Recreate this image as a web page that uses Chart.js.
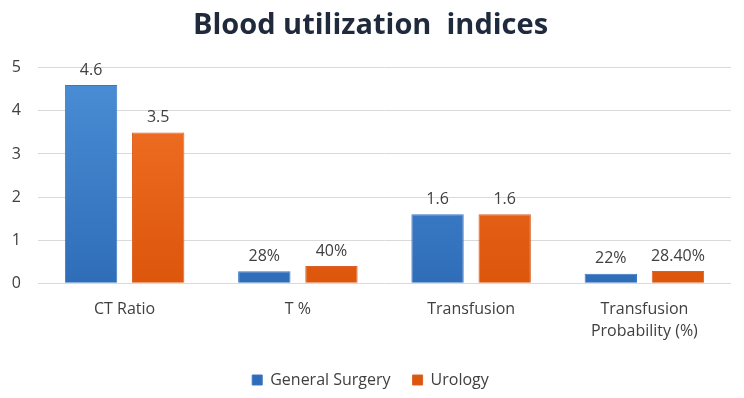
<!DOCTYPE html>
<html>
<head>
<meta charset="utf-8">
<script src="https://cdn.jsdelivr.net/npm/chart.js@4.4.1/dist/chart.umd.min.js"></script>
<style>
  html, body { margin: 0; padding: 0; background: #fff; }
  #wrap { width: 744px; height: 398px; }
</style>
</head>
<body>
<div id="wrap"><canvas id="chart"></canvas></div>
<script>
const categories = ["CT Ratio", "T %", "Transfusion", ["Transfusion", "Probability (%)"]];
const generalSurgery = [4.6, 0.28, 1.6, 0.22];
const urology = [3.5, 0.40, 1.6, 0.284];
const generalLabels = ["4.6", "28%", "1.6", "22%"];
const urologyLabels = ["3.5", "40%", "1.6", "28.40%"];
const yTicks = [0, 1, 2, 3, 4, 5];

const font = "'Open Sans', sans-serif";

function gradient(top, bottom) {
  return (ctx) => {
    const chart = ctx.chart;
    const area = chart.chartArea;
    if (!area) return bottom;
    const g = chart.ctx.createLinearGradient(0, area.top, 0, area.bottom);
    g.addColorStop(0, top);
    g.addColorStop(1, bottom);
    return g;
  };
}

// draws the value text above each bar
const valueLabels = {
  id: "valueLabels",
  afterDatasetsDraw(chart) {
    const ctx = chart.ctx;
    ctx.save();
    ctx.font = "16px " + font;
    ctx.fillStyle = "#404040";
    ctx.textAlign = "center";
    ctx.textBaseline = "bottom";
    chart.data.datasets.forEach((ds, i) => {
      const meta = chart.getDatasetMeta(i);
      meta.data.forEach((bar, j) => {
        ctx.fillText(ds.valueText[j], bar.x, bar.y - 7);
      });
    });
    ctx.restore();
  },
};

new Chart(document.getElementById("chart"), {
  type: "bar",
  data: {
    labels: categories,
    datasets: [
      {
        label: "General Surgery",
        data: generalSurgery,
        valueText: generalLabels,
        backgroundColor: gradient("#4b8fd6", "#2f6db8"),
        borderColor: "#3a78c4",
        borderWidth: 1,
      },
      {
        label: "Urology",
        data: urology,
        valueText: urologyLabels,
        backgroundColor: gradient("#f4732a", "#dc560c"),
        borderColor: "#d9622a",
        borderWidth: 1,
      },
    ],
  },
  options: {
    responsive: true,
    maintainAspectRatio: false,
    animation: false,
    layout: { padding: { left: 10, right: 13, top: 0, bottom: 0 } },
    categoryPercentage: 0.775,
    barPercentage: 0.78,
    plugins: {
      title: {
        display: true,
        text: "Blood utilization  indices",
        color: "#1f2a3c",
        font: { family: font, size: 29, weight: "bold" },
        padding: { top: 8, bottom: 25 },
      },
      legend: {
        position: "bottom",
        labels: {
          color: "#404040",
          font: { family: font, size: 16 },
          usePointStyle: true,
          pointStyle: "rect",
          boxWidth: 10,
          boxHeight: 10,
          padding: 22,
        },
      },
      tooltip: { enabled: false },
    },
    scales: {
      x: {
        grid: { display: false },
        border: { display: false },
        ticks: {
          color: "#404040",
          font: { family: font, size: 16, lineHeight: 1.4 },
          maxRotation: 0,
          padding: 7,
        },
      },
      y: {
        min: 0,
        max: 5,
        afterBuildTicks: (axis) => {
          axis.ticks = yTicks.map((v) => ({ value: v }));
        },
        afterFit: (axis) => {
          axis.width = 28;
        },
        grid: { color: "#d9d9d9", drawTicks: false },
        border: { display: false },
        ticks: {
          color: "#404040",
          font: { family: font, size: 16 },
          padding: 17,
        },
      },
    },
  },
  plugins: [valueLabels],
});
</script>
</body>
</html>
